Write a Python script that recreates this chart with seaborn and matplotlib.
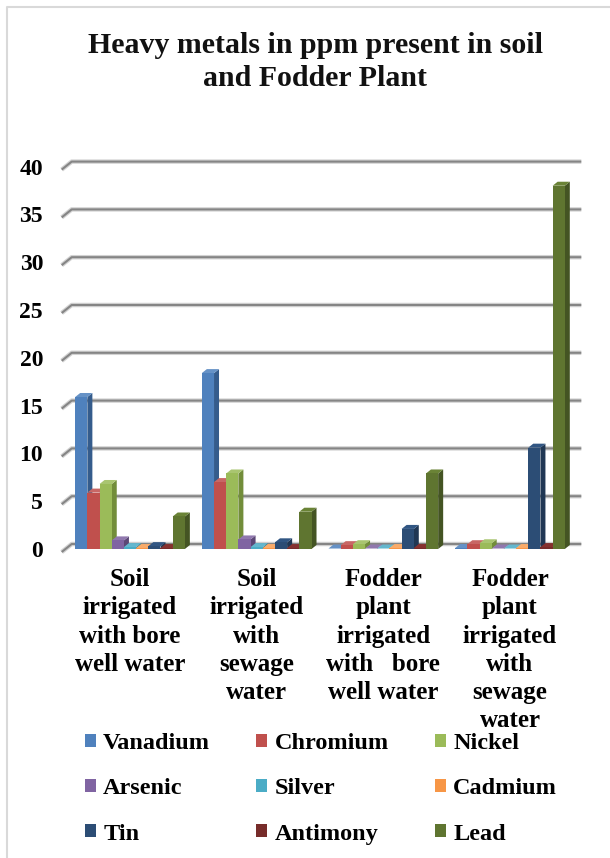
import numpy as np
import pandas as pd
import seaborn as sns
import matplotlib
matplotlib.use("Agg")
import matplotlib.pyplot as plt
import matplotlib.patches as mpatches
from matplotlib.lines import Line2D
from matplotlib.transforms import IdentityTransform
import colorsys
import matplotlib.colors as mcolors

# ---- data (ppm) ----
samples = [
    "Soil\nirrigated\nwith bore\nwell water",
    "Soil\nirrigated\nwith\nsewage\nwater",
    "Fodder\nplant\nirrigated\nwith   bore\nwell water",
    "Fodder\nplant\nirrigated\nwith\nsewage\nwater",
]
metals = ["Vanadium", "Chromium", "Nickel", "Arsenic", "Silver",
          "Cadmium", "Tin", "Antimony", "Lead"]

vanadium = [15.9, 18.4, 0.05, 0.1]
chromium = [5.9, 7.0, 0.4, 0.5]
nickel = [6.8, 7.9, 0.5, 0.6]
arsenic = [0.9, 1.0, 0.05, 0.05]
silver = [0.2, 0.2, 0.05, 0.05]
cadmium = [0.1, 0.1, 0.1, 0.1]
tin = [0.3, 0.7, 2.1, 10.6]
antimony = [0.1, 0.1, 0.1, 0.2]
lead = [3.4, 3.9, 7.9, 38.0]

yticks = [0, 5, 10, 15, 20, 25, 30, 35, 40]

colors = ["#4F81BD", "#C0504D", "#9BBB59", "#8064A2", "#4BACC6",
          "#F79646", "#2C4D75", "#772C2A", "#5F7530"]

series = [vanadium, chromium, nickel, arsenic, silver,
          cadmium, tin, antimony, lead]
df = pd.DataFrame(
    [(s, m, v[i]) for m, v in zip(metals, series) for i, s in enumerate(samples)],
    columns=["sample", "metal", "ppm"],
)

# ---- figure ----
sns.set_theme(style="white")
plt.rcParams["font.family"] = ["Liberation Serif", "DejaVu Serif"]
plt.rcParams["font.weight"] = "bold"
plt.rcParams["text.color"] = "black"

W, H = 610, 858
fig = plt.figure(figsize=(W / 100, H / 100), dpi=100)
ax_left, ax_right = 66.7, 573.3
ax_bottom, ax_top = 549.0, 166.6
ax = fig.add_axes([ax_left / W, 1 - ax_bottom / H,
                   (ax_right - ax_left) / W, (ax_bottom - ax_top) / H])

sns.barplot(data=df, x="sample", y="ppm", hue="metal", hue_order=metals,
            order=samples, palette=colors, width=0.866, saturation=1,
            ax=ax, legend=True, linewidth=0)

ax.set_ylim(0, 40)
ax.set_xlim(-0.5, 3.5)
ax.set_xlabel("")
ax.set_ylabel("")
for sp in ax.spines.values():
    sp.set_visible(False)
ax.grid(False)
ax.patch.set_alpha(0)

ax.set_yticks(yticks)
ax.set_yticklabels([str(t) for t in yticks], fontsize=17, fontweight="bold",
                   color="black")
ax.tick_params(axis="y", length=0, pad=17)
ax.set_xticks(range(len(samples)))
ax.set_xticklabels(samples, fontsize=18, fontweight="bold", color="black",
                   linespacing=1.28, va="top")
ax.tick_params(axis="x", length=0, pad=14)

fig.canvas.draw()
to_disp = ax.transData.transform

# ---- back-wall gridlines with perspective stub on the left ----
x_axes_left = ax.transAxes.transform((0, 0))[0]
x_axes_right = ax.transAxes.transform((1, 0))[0]
for t in yticks:
    yv = to_disp((0, t))[1]
    xs = [x_axes_left - 5, x_axes_left + 5, x_axes_right + 8]
    ys = [yv - 3, yv + 5, yv + 5]
    ax.add_line(Line2D(xs, ys, transform=IdentityTransform(),
                       color="#d2d2d2", lw=3.2, zorder=0.4,
                       solid_capstyle="butt", clip_on=False))
    ax.add_line(Line2D(xs, ys, transform=IdentityTransform(),
                       color="#858585", lw=1.5, zorder=0.5,
                       solid_capstyle="butt", clip_on=False))


def shade(c, f):
    r, g, b = mcolors.to_rgb(c)
    h, l, s = colorsys.rgb_to_hls(r, g, b)
    return colorsys.hls_to_rgb(h, max(0, min(1, l * f)), s)


# ---- 3-D side and top faces on every bar ----
dx, dy = 5.0, 4.0
for ci, cont in enumerate(ax.containers):
    col = colors[ci]
    for bar in cont:
        x0, y0 = bar.get_x(), bar.get_y()
        x1, y1 = x0 + bar.get_width(), y0 + bar.get_height()
        (X0, Y0), (X1, Y1) = to_disp((x0, y0)), to_disp((x1, y1))
        gi = int(round((x0 + x1) / 2))
        z = 2 + gi * 0.2 + ci * 0.01
        bar.set_zorder(z + 0.001)
        side = mpatches.Polygon(
            [(X1, Y0), (X1 + dx, Y0 + dy), (X1 + dx, Y1 + dy), (X1, Y1)],
            closed=True, transform=IdentityTransform(), clip_on=False,
            facecolor=shade(col, 0.72), edgecolor="none", zorder=z)
        top = mpatches.Polygon(
            [(X0, Y1), (X1, Y1), (X1 + dx, Y1 + dy), (X0 + dx, Y1 + dy)],
            closed=True, transform=IdentityTransform(), clip_on=False,
            facecolor=shade(col, 1.12), edgecolor="none", zorder=z)
        ax.add_patch(side)
        ax.add_patch(top)

# ---- legend below the chart, three per row ----
handles, labels = ax.get_legend_handles_labels()
ax.get_legend().remove()
idx = [0, 3, 6, 1, 4, 7, 2, 5, 8]
fig.legend([handles[i] for i in idx], [labels[i] for i in idx], ncol=3,
           loc="upper left", bbox_to_anchor=(85 / W, 1 - 733 / H),
           frameon=False, prop={"family": "Liberation Serif",
                                "weight": "bold", "size": 17.5},
           labelcolor="black",
           handlelength=0.45, handleheight=0.45, handletextpad=0.3,
           columnspacing=1.9, labelspacing=1.0, borderpad=0, borderaxespad=0)

# ---- title ----
fig.text(315 / W, 1 - 62 / H, "Heavy metals in ppm present in soil\nand Fodder Plant",
         ha="center", va="center", fontsize=21.5, fontweight="bold",
         linespacing=1.3, color="#111111")

# ---- chart frame ----
fig.add_artist(Line2D([7, 7, W + 2], [0, H - 7, H - 7],
                      transform=IdentityTransform(), color="#d9d9d9", lw=1.5))

fig.savefig("out.png", dpi=100)
